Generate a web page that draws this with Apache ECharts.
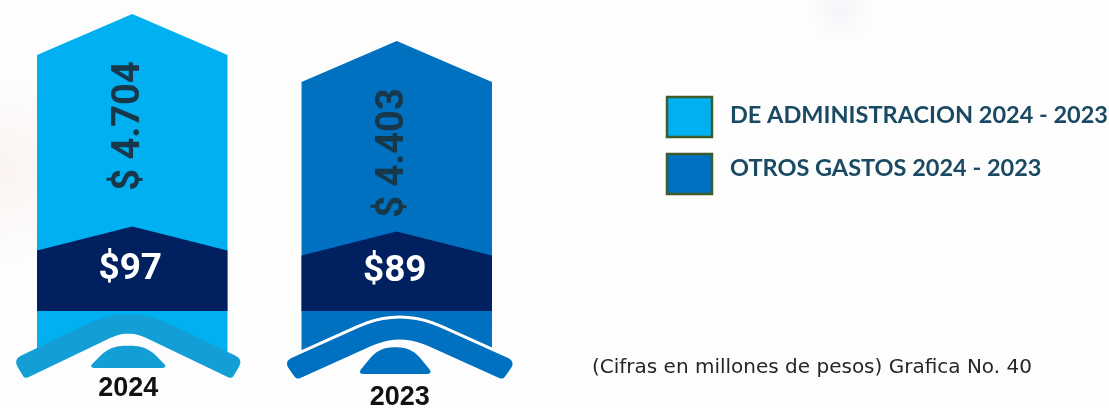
<!DOCTYPE html>
<html>
<head>
<meta charset="utf-8">
<script src="https://cdn.jsdelivr.net/npm/echarts@6/dist/echarts.min.js"></script>
<style>
  html, body { margin: 0; padding: 0; background: #fdfdfd; }
  #chart { width: 1109px; height: 408px; }
</style>
</head>
<body>
<div id="chart"></div>
<script>
// Gastos de administración y otros gastos (millones de pesos)
const years = ['2024', '2023'];
const administracion = [4704, 4403];
const otrosGastos = [97, 89];
const legendNames = ['DE ADMINISTRACION 2024 - 2023', 'OTROS GASTOS 2024 - 2023'];
const footnote = '(Cifras en millones de pesos) Grafica No. 40';

// Look of each column (by year index)
const bodyColors = ['#00B0F0', '#0070C0'];
const bandColor = '#002060';
const valueTextColor = '#17384A';
// chevron base under each column; vertical values are offsets up from the grid bottom
const baseLook = [
  { color: '#139FD6', halo: false, shift: -4, outerTop: 83, innerTop: 58, slope: 0.48,
    outerX: 115, innerX: 103.5, rOut: 45, rIn: 20,
    moundShift: 0, moundHalf: 40, moundTop: 41.5, moundBottom: 19.3, yearDy: 0 },
  { color: '#0070C0', halo: true, shift: 3, outerTop: 78, innerTop: 54, slope: 0.45,
    outerX: 116, innerX: 103, rOut: 45, rIn: 30,
    moundShift: -4.5, moundHalf: 38, moundTop: 40, moundBottom: 13.3, yearDy: 9 }
];

const fmtThousands = v => '$ ' + (v / 1000).toFixed(3);
const fmtSmall = v => '$' + v;

// polygon with each corner rounded by a quadratic curve
function roundedPoly(verts, radii, seg) {
  seg = seg || 10;
  const out = [];
  const n = verts.length;
  for (let k = 0; k < n; k++) {
    const V = verts[k], P = verts[(k - 1 + n) % n], N = verts[(k + 1) % n], r = radii[k];
    if (!r) { out.push(V); continue; }
    const dp = Math.hypot(P[0] - V[0], P[1] - V[1]);
    const dn = Math.hypot(N[0] - V[0], N[1] - V[1]);
    const tp = Math.min(r / dp, 0.5), tn = Math.min(r / dn, 0.5);
    const A = [V[0] + (P[0] - V[0]) * tp, V[1] + (P[1] - V[1]) * tp];
    const B = [V[0] + (N[0] - V[0]) * tn, V[1] + (N[1] - V[1]) * tn];
    for (let s = 0; s <= seg; s++) {
      const t = s / seg, u = 1 - t;
      out.push([u * u * A[0] + 2 * u * t * V[0] + t * t * B[0],
                u * u * A[1] + 2 * u * t * V[1] + t * t * B[1]]);
    }
  }
  return out;
}

function renderBody(params, api) {
  const i = api.value(0);
  const pt = api.coord([i, api.value(1)]);
  const cx = pt[0], top = pt[1];
  const half = api.size([1, 0])[0] * 0.36;
  const cs = params.coordSys;
  const G = cs.y + cs.height;
  const tip = 41;
  const L = baseLook[i];
  const bx = cx + L.shift;
  const oy = G - L.outerTop, iy = G - L.innerTop;
  // the column ends along the middle of the chevron arms, hidden under them
  const midAt = x => (oy + iy) / 2 + L.slope * Math.abs(x - bx);
  const children = [];

  // arrow-shaped column
  children.push({
    type: 'polygon',
    shape: { points: [
      [cx - half, midAt(cx - half)], [cx - half, top], [cx, top - tip], [cx + half, top],
      [cx + half, midAt(cx + half)], [bx, midAt(bx)]
    ] },
    style: { fill: bodyColors[i] }
  });

  // chevron base
  const chev = roundedPoly([
    [bx - L.outerX, oy + L.slope * L.outerX],
    [bx, oy],
    [bx + L.outerX, oy + L.slope * L.outerX],
    [bx + L.innerX, iy + L.slope * L.innerX],
    [bx, iy],
    [bx - L.innerX, iy + L.slope * L.innerX]
  ], [9, L.rOut, 9, 4, L.rIn, 4]);
  if (L.halo) {
    children.push({
      type: 'polygon',
      shape: { points: chev },
      style: { fill: '#ffffff', stroke: '#ffffff', lineWidth: 6, lineJoin: 'round' }
    });
  }
  children.push({
    type: 'polygon',
    shape: { points: chev },
    style: { fill: L.color }
  });

  // small mound under the chevron
  const mx = bx + L.moundShift, mt = G - L.moundTop, mb = G - L.moundBottom, mh = L.moundHalf;
  children.push({
    type: 'polygon',
    shape: { points: roundedPoly([[mx - mh, mb], [mx - mh + 22, mt], [mx + mh - 22, mt], [mx + mh, mb]], [7, 14, 14, 7]) },
    style: { fill: L.color }
  });

  // rotated value
  children.push({
    type: 'text',
    x: cx - 3,
    y: top + 71,
    rotation: Math.PI / 2,
    style: {
      text: fmtThousands(api.value(1)),
      x: 0, y: 0,
      align: 'center', verticalAlign: 'middle',
      font: 'bold 38px Roboto',
      fill: valueTextColor
    }
  });

  // year label
  children.push({
    type: 'text',
    style: {
      text: years[i],
      x: bx, y: G + 1 + L.yearDy,
      align: 'center', verticalAlign: 'middle',
      font: 'bold 27px "Liberation Sans", Arial, sans-serif',
      fill: '#111111'
    }
  });
  return { type: 'group', children };
}

function renderBand(params, api) {
  const i = api.value(0);
  const t = api.coord([i, api.value(1)]);
  const b = api.coord([i, 0]);
  const cx = t[0];
  const half = api.size([1, 0])[0] * 0.36;
  const peak = t[1] - 24;
  return {
    type: 'group',
    children: [
      {
        type: 'polygon',
        shape: { points: [[cx - half, b[1]], [cx - half, t[1]], [cx, peak], [cx + half, t[1]], [cx + half, b[1]]] },
        style: { fill: bandColor }
      },
      {
        type: 'text',
        style: {
          text: fmtSmall(api.value(1)),
          x: cx - 2, y: (peak + b[1]) / 2 + 1,
          align: 'center', verticalAlign: 'middle',
          font: 'bold 37px Roboto',
          fill: '#ffffff'
        }
      }
    ]
  };
}

const chart = echarts.init(document.getElementById('chart'), null, { renderer: 'canvas' });

chart.setOption({
  backgroundColor: '#fdfdfd',
  animation: false,
  grid: [
    { left: 0, width: 529, top: 28.5, height: 358.8 },
    { left: 0, width: 529, top: 61, height: 250 }
  ],
  xAxis: [
    { type: 'category', data: years, gridIndex: 0, show: false },
    { type: 'category', data: years, gridIndex: 1, show: false }
  ],
  yAxis: [
    { type: 'value', min: 1000, max: 5000, gridIndex: 0, show: false },
    { type: 'value', min: 0, max: 400, gridIndex: 1, show: false }
  ],
  graphic: [
    // faint haze in the background
    {
      type: 'circle', shape: { cx: 0, cy: 170, r: 90 }, z: -10, silent: true,
      style: { fill: new echarts.graphic.RadialGradient(0.5, 0.5, 0.5, [
        { offset: 0, color: 'rgba(246,226,220,0.35)' },
        { offset: 1, color: 'rgba(246,226,220,0)' }
      ]) }
    },
    {
      type: 'ellipse', shape: { cx: 840, cy: 10, rx: 60, ry: 30 }, z: -10, silent: true,
      style: { fill: new echarts.graphic.RadialGradient(0.5, 0.5, 0.5, [
        { offset: 0, color: 'rgba(236,239,246,0.55)' },
        { offset: 1, color: 'rgba(236,239,246,0)' }
      ]) }
    },
    // legend
    { type: 'rect', shape: { x: 667, y: 97, width: 45, height: 40 },
      style: { fill: bodyColors[0], stroke: '#3E5C2A', lineWidth: 2.5 } },
    { type: 'rect', shape: { x: 667, y: 154, width: 45, height: 40 },
      style: { fill: bodyColors[1], stroke: '#3E5C2A', lineWidth: 2.5 } },
    { type: 'text', x: 730, y: 115,
      style: { text: legendNames[0], font: 'bold 23.5px Lato', fill: '#1A4A63', verticalAlign: 'middle' } },
    { type: 'text', x: 730, y: 168,
      style: { text: legendNames[1], font: 'bold 23.5px Lato', fill: '#1A4A63', verticalAlign: 'middle' } },
    // footnote
    { type: 'text', x: 592, y: 368,
      style: { text: footnote, font: '20px "DejaVu Sans"', fill: '#262626', verticalAlign: 'middle' } }
  ],
  series: [
    {
      name: legendNames[0],
      type: 'custom',
      xAxisIndex: 0, yAxisIndex: 0,
      renderItem: renderBody,
      encode: { x: 0, y: 1 },
      data: administracion.map((v, i) => [i, v])
    },
    {
      name: legendNames[1],
      type: 'custom',
      xAxisIndex: 1, yAxisIndex: 1,
      renderItem: renderBand,
      encode: { x: 0, y: 1 },
      data: otrosGastos.map((v, i) => [i, v])
    }
  ]
});
</script>
</body>
</html>
